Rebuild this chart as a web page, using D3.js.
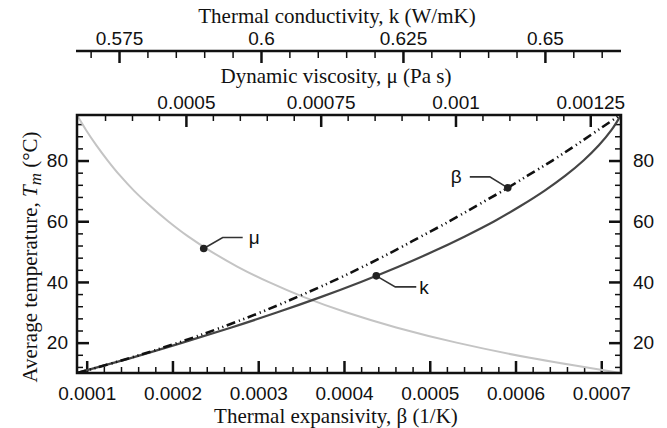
<!DOCTYPE html>
<html>
<head>
<meta charset="utf-8">
<script src="https://cdn.jsdelivr.net/npm/d3@7"></script>
<style>
  body { margin: 0; background: #fff; }
  .tick text { font-family: "Liberation Sans", Arial, sans-serif; font-size: 19px; fill: #111; }
  .title { font-family: "Liberation Serif", "Times New Roman", serif; font-size: 21px; fill: #111; }
</style>
</head>
<body>
<div id="chart"></div>
<script>
// average temperature (°C) and the water properties
const temps = [10, 15, 20, 25, 30, 35, 40, 45, 50, 55, 60, 65, 70, 75, 80, 85, 90, 95];
const muVals = [0.001306, 0.001138, 0.001002, 0.000890, 0.000797, 0.000719, 0.000653, 0.000596, 0.000547,
                0.000504, 0.000467, 0.000434, 0.000404, 0.000378, 0.000355, 0.000334, 0.000315, 0.000298];
const kVals = [0.5676, 0.5772, 0.5862, 0.5948, 0.6029, 0.6105, 0.6176, 0.6242, 0.6303,
               0.6359, 0.6411, 0.6457, 0.6499, 0.6536, 0.6568, 0.6595, 0.6617, 0.6634];
const betaVals = [0.000089, 0.000151, 0.000207, 0.000257, 0.000303, 0.000345, 0.000385, 0.000422, 0.000457,
                  0.000490, 0.000523, 0.000554, 0.000585, 0.000614, 0.000643, 0.000670, 0.000696, 0.000722];

const betaTicks = [0.0001, 0.0002, 0.0003, 0.0004, 0.0005, 0.0006, 0.0007];
const betaTickLabels = ["0.0001", "0.0002", "0.0003", "0.0004", "0.0005", "0.0006", "0.0007"];
const muTicks = [0.0005, 0.00075, 0.001, 0.00125];
const muTickLabels = ["0.0005", "0.00075", "0.001", "0.00125"];
const kTicks = [0.575, 0.6, 0.625, 0.65];
const kTickLabels = ["0.575", "0.6", "0.625", "0.65"];
const tempTicks = [20, 40, 60, 80];
const tempTickLabels = ["20", "40", "60", "80"];

// labelled points on each curve
const markerNames = ["μ", "k", "β"];
const markerTemps = [51, 42, 71];
const markerValues = [0.000533, 0.6203, 0.000591];

let width = 667, height = 428;
let plot = { left: 77, right: 621, top: 115, bottom: 373 };

let svg = d3.select("#chart").append("svg")
    .attr("width", width)
    .attr("height", height)
    .style("font-family", "Liberation Sans, Arial, sans-serif");

let y = d3.scaleLinear().domain([10, 95]).range([plot.bottom, plot.top]);
let xBeta = d3.scaleLinear().domain([0.0000887, 0.000723]).range([plot.left, plot.right]);
let xMu = d3.scaleLinear().domain([0.000298, 0.001307]).range([plot.left, plot.right]);
let xK = d3.scaleLinear().domain([0.5676, 0.6634]).range([plot.left, plot.right]);

// keep minor ticks off the frame corners
function minorsFor(scale, vals, majors) {
    return vals.filter(v => !majors.some(m => Math.abs(m - v) < 1e-9))
        .filter(v => scale(v) > plot.left + 4 && scale(v) < plot.right - 4);
}

function styleAxis(g) {
    g.selectAll(".domain").remove();
    g.selectAll(".tick line").attr("stroke", "#111");
}

// bottom: thermal expansivity
let betaMinor = minorsFor(xBeta, d3.range(10, 73, 2).map(d => d * 1e-5), betaTicks);
svg.append("g").attr("transform", "translate(0," + plot.bottom + ")")
    .call(d3.axisBottom(xBeta).tickValues(betaMinor).tickSize(-6).tickFormat(""))
    .call(styleAxis)
    .selectAll(".tick line").attr("stroke-width", 1.5);
svg.append("g").attr("transform", "translate(0," + plot.bottom + ")")
    .call(d3.axisBottom(xBeta).tickValues(betaTicks).tickSize(-12).tickPadding(13.5)
        .tickFormat((d, i) => betaTickLabels[i]))
    .call(styleAxis)
    .selectAll(".tick line").attr("stroke-width", 2.5);

// top of frame: dynamic viscosity
let muMinor = minorsFor(xMu, d3.range(30, 131, 5).map(d => d * 1e-5), muTicks);
svg.append("g").attr("transform", "translate(0," + plot.top + ")")
    .call(d3.axisTop(xMu).tickValues(muMinor).tickSize(-6).tickFormat(""))
    .call(styleAxis)
    .selectAll(".tick line").attr("stroke-width", 1.5);
svg.append("g").attr("transform", "translate(0," + plot.top + ")")
    .call(d3.axisTop(xMu).tickValues(muTicks).tickSize(-12).tickPadding(6)
        .tickFormat((d, i) => muTickLabels[i]))
    .call(styleAxis)
    .selectAll(".tick line").attr("stroke-width", 2.5);

// separate axis above: thermal conductivity
let kY = 51;
let kMinor = minorsFor(xK, d3.range(570, 664, 5).map(d => d / 1000), kTicks);
svg.append("g").attr("transform", "translate(0," + kY + ")")
    .call(d3.axisTop(xK).tickValues(kMinor).tickSize(-7).tickFormat(""))
    .call(styleAxis)
    .selectAll(".tick line").attr("stroke-width", 1.5);
svg.append("g").attr("transform", "translate(0," + kY + ")")
    .call(d3.axisTop(xK).tickValues(kTicks).tickSize(-12).tickPadding(6)
        .tickFormat((d, i) => kTickLabels[i]))
    .call(styleAxis)
    .selectAll(".tick line").attr("stroke-width", 2.5);
svg.append("line")
    .attr("x1", plot.left - 1).attr("x2", plot.right)
    .attr("y1", kY).attr("y2", kY)
    .attr("stroke", "#111").attr("stroke-width", 2.5);

// left and right: temperature
let tempMinor = d3.range(12, 95, 4).filter(v => !tempTicks.includes(v));
[["left", plot.left, d3.axisLeft, 9], ["right", plot.right, d3.axisRight, 12]].forEach(([side, xPos, axisFn, pad]) => {
    svg.append("g").attr("transform", "translate(" + xPos + ",0)")
        .call(axisFn(y).tickValues(tempMinor).tickSize(-6).tickFormat(""))
        .call(styleAxis)
        .selectAll(".tick line").attr("stroke-width", 1.5);
    svg.append("g").attr("transform", "translate(" + xPos + ",0)")
        .call(axisFn(y).tickValues(tempTicks).tickSize(-12).tickPadding(pad)
            .tickFormat((d, i) => tempTickLabels[i]))
        .call(styleAxis)
        .selectAll(".tick line").attr("stroke-width", 2.5);
});

// curves
svg.append("clipPath").attr("id", "clip")
    .append("rect")
    .attr("x", plot.left).attr("y", plot.top)
    .attr("width", plot.right - plot.left).attr("height", plot.bottom - plot.top);

let curves = svg.append("g").attr("clip-path", "url(#clip)");

function curveLine(xScale, vals) {
    return d3.line()
        .x((d, i) => xScale(vals[i]))
        .y(d => y(d))
        .curve(d3.curveMonotoneY)(temps);
}

curves.append("path")
    .attr("d", curveLine(xMu, muVals))
    .attr("fill", "none").attr("stroke", "#c4c4c4").attr("stroke-width", 2);
curves.append("path")
    .attr("d", curveLine(xK, kVals))
    .attr("fill", "none").attr("stroke", "#454545").attr("stroke-width", 2.2);
curves.append("path")
    .attr("d", curveLine(xBeta, betaVals))
    .attr("fill", "none").attr("stroke", "#111").attr("stroke-width", 2.6)
    .attr("stroke-dasharray", "9,4,1.2,3.5,1.2,3.5");

// frame
svg.append("rect")
    .attr("x", plot.left).attr("y", plot.top)
    .attr("width", plot.right - plot.left).attr("height", plot.bottom - plot.top)
    .attr("fill", "none").attr("stroke", "#111").attr("stroke-width", 2.5);

// markers with leader lines
let markerScales = [xMu, xK, xBeta];
let leaders = [
    { pts: [[0, 0], [19, -11], [39, -11]], label: [45, -11], anchor: "start" },
    { pts: [[0, 0], [19, 11], [40, 11]], label: [43, 11], anchor: "start" },
    { pts: [[0, 0], [-18, -11], [-38, -11]], label: [-46, -11], anchor: "end" }
];
markerNames.forEach((name, i) => {
    let mx = markerScales[i](markerValues[i]);
    let my = y(markerTemps[i]);
    let L = leaders[i];
    svg.append("path")
        .attr("d", d3.line()(L.pts.map(p => [mx + p[0], my + p[1]])))
        .attr("fill", "none").attr("stroke", "#333").attr("stroke-width", 1.6);
    svg.append("circle")
        .attr("cx", mx).attr("cy", my).attr("r", 3.8).attr("fill", "#222");
    svg.append("text")
        .attr("x", mx + L.label[0]).attr("y", my + L.label[1])
        .attr("dy", "0.35em")
        .attr("text-anchor", L.anchor)
        .style("font-size", "19px").style("fill", "#111")
        .text(name);
});

// axis titles
svg.append("text").attr("class", "title")
    .attr("x", 337).attr("y", 22.5).attr("text-anchor", "middle")
    .text("Thermal conductivity, k (W/mK)");
svg.append("text").attr("class", "title")
    .attr("x", 336).attr("y", 83).attr("text-anchor", "middle")
    .text("Dynamic viscosity, μ (Pa s)");
svg.append("text").attr("class", "title")
    .attr("x", 336).attr("y", 423).attr("text-anchor", "middle")
    .text("Thermal expansivity, β (1/K)");

let yTitle = svg.append("text").attr("class", "title")
    .attr("transform", "translate(37,257)rotate(-90)")
    .attr("text-anchor", "middle");
yTitle.append("tspan").text("Average temperature, ");
yTitle.append("tspan").style("font-style", "italic").text("T");
yTitle.append("tspan").style("font-style", "italic").style("font-size", "17px").attr("dy", 4).text("m");
yTitle.append("tspan").attr("dy", -4).text(" (°C)");
</script>
</body>
</html>
